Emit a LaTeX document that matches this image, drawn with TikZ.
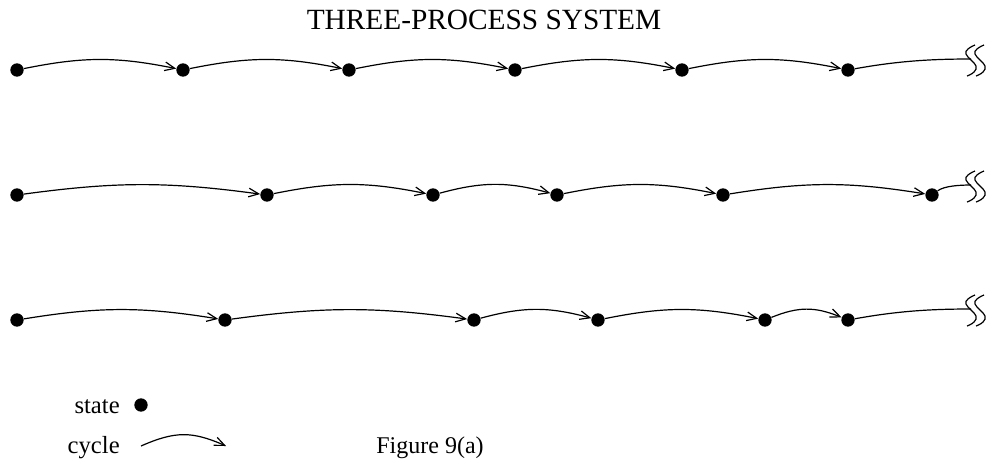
\documentclass[tikz,border=0pt]{standalone}
\usepackage{fontspec}
\setmainfont{Liberation Serif}
\usetikzlibrary{arrows.meta,calc}
\begin{document}
\begin{tikzpicture}[x=0.75pt,y=-0.75pt,
  st/.style={circle,fill=black,inner sep=0pt,minimum size=10pt},
  cyc/.style={line width=0.9pt,-{Straight Barb[length=7.5pt,width=6.5pt,line width=0.9pt]}},
  tail/.style={line width=0.9pt},
  sq/.style={line width=0.9pt},
  lbl/.style={font=\fontsize{18.5}{20}\selectfont,inner sep=0pt}]
\useasboundingbox (0,0) rectangle (987,465);
\newcommand\cyclink[2]{\draw[cyc] (#1) .. controls ($(#1)!0.4!(#2)+(0,-13.5)$) and ($(#1)!0.6!(#2)+(0,-13.5)$) .. (#2);}
\newcommand\squig[1]{%
  \foreach \dx in {0,9}{%
    \draw[sq,shift={($(#1)+(\dx,1)$)}] plot[smooth,tension=0.8] coordinates {(4,-15) (-3,-11) (-5,-6) (0,0) (5,6) (3,12) (-4,16)};}}

\node[lbl,anchor=base,font=\fontsize{22}{24}\selectfont] (title) at (484,29) {THREE-PROCESS SYSTEM};

% row 1
\node[st] (a1) at (17,70) {};
\node[st] (a2) at (183,70) {};
\node[st] (a3) at (349,70) {};
\node[st] (a4) at (515,70) {};
\node[st] (a5) at (682,70) {};
\node[st] (a6) at (848,70) {};
\coordinate (ae) at (971,59);
\cyclink{a1}{a2}\cyclink{a2}{a3}\cyclink{a3}{a4}\cyclink{a4}{a5}\cyclink{a5}{a6}
\draw[tail] (a6) .. controls +(50,-9) and +(-40,0) .. (ae);
\squig{ae}

% row 2
\node[st] (b1) at (17,195) {};
\node[st] (b2) at (267,195) {};
\node[st] (b3) at (433,195) {};
\node[st] (b4) at (557,195) {};
\node[st] (b5) at (723,195) {};
\node[st] (b6) at (932,195) {};
\coordinate (be) at (971,185);
\cyclink{b1}{b2}\cyclink{b2}{b3}\cyclink{b3}{b4}\cyclink{b4}{b5}\cyclink{b5}{b6}
\draw[tail] (b6) .. controls +(12,-9) and +(-12,0) .. (be);
\squig{be}

% row 3
\node[st] (c1) at (17,320) {};
\node[st] (c2) at (225,320) {};
\node[st] (c3) at (474,320) {};
\node[st] (c4) at (598,320) {};
\node[st] (c5) at (765,320) {};
\node[st] (c6) at (848,320) {};
\coordinate (ce) at (971,309);
\cyclink{c1}{c2}\cyclink{c2}{c3}\cyclink{c3}{c4}\cyclink{c4}{c5}\cyclink{c5}{c6}
\draw[tail] (c6) .. controls +(50,-9) and +(-40,0) .. (ce);
\squig{ce}

% legend
\node[lbl,anchor=base east] (lstate) at (120,413) {state};
\node[st] (ldot) at (141,405) {};
\node[lbl,anchor=base east] (lcycle) at (120,453) {cycle};
\coordinate (l1) at (141,446);
\coordinate (l2) at (226,446);
\draw[cyc] (l1) .. controls ($(l1)!0.4!(l2)+(0,-15)$) and ($(l1)!0.6!(l2)+(0,-15)$) .. (l2);
\node[lbl,anchor=base,font=\fontsize{18}{20}\selectfont] (fig) at (430,453) {Figure 9(a)};
\end{tikzpicture}
\end{document}
